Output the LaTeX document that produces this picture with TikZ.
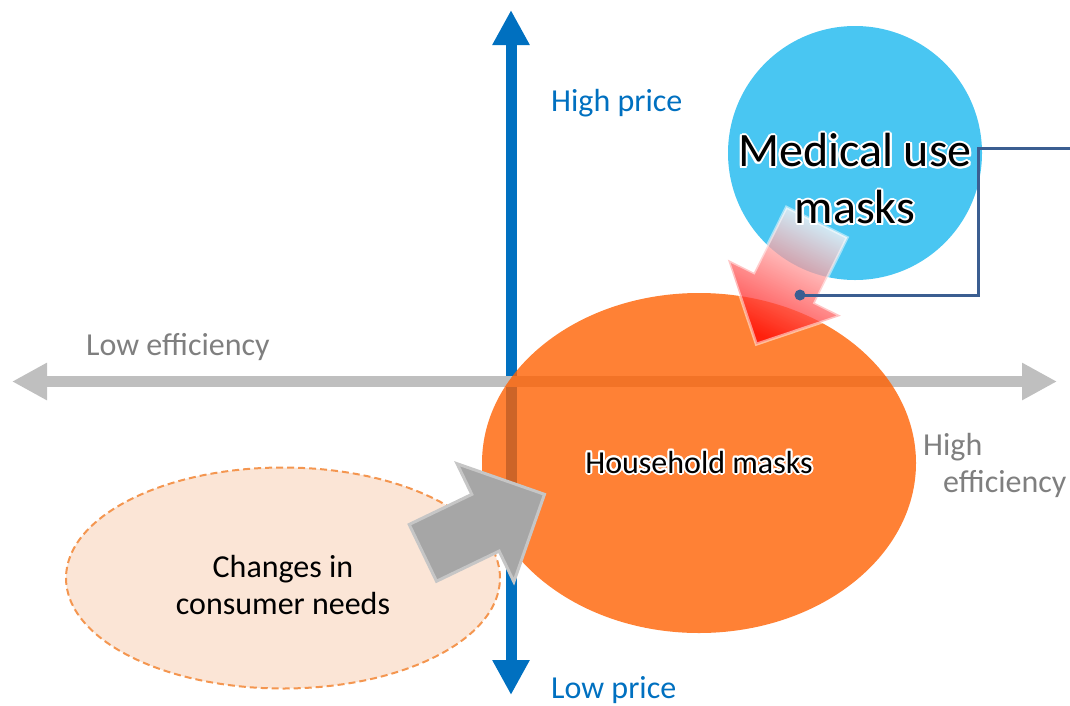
\documentclass[tikz,border=0pt]{standalone}
\usepackage{fontspec}
\setmainfont{Carlito}
\usepackage{contour}
\usetikzlibrary{shapes.geometric, shapes.arrows, arrows.meta, positioning, calc}

\definecolor{priceblue}{RGB}{0,112,192}
\definecolor{effgray}{RGB}{191,191,191}
\definecolor{labelgray}{RGB}{127,127,127}
\definecolor{maskorange}{RGB}{255,97,2}
\definecolor{needsfill}{RGB}{251,229,214}
\definecolor{needsline}{RGB}{244,150,80}
\definecolor{medblue}{RGB}{73,198,242}
\definecolor{shiftgray}{RGB}{166,166,166}
\definecolor{calloutblue}{RGB}{59,94,145}

\contourlength{2pt}

\begin{document}
\begin{tikzpicture}[
    x=1pt, y=-1pt,
    every node/.style={font=\fontsize{32}{37}\selectfont},
    axisline/.style={line width=11pt, {Triangle[width=35pt,length=35pt]}-{Triangle[width=35pt,length=35pt]}},
    pricelabel/.style={text=priceblue, inner sep=0pt},
    efflabel/.style={text=labelgray, inner sep=0pt},
    blob/.style={ellipse, inner sep=0pt},
    blockarrow/.style={single arrow, single arrow head indent=0pt, inner xsep=0pt, line width=3pt, anchor=tail},
    callout/.style={draw=calloutblue, line width=3pt}
]
\useasboundingbox (0,0) rectangle (1070,705);

% Shapes behind the axes
\node[blob, fill=needsfill, draw=needsline, line width=2pt, dash pattern=on 7pt off 4pt,
      minimum width=434pt, minimum height=221pt] (needs) at (283,578) {};
\node[align=center] (needstext) at ($(needs)+(0,7)$) {Changes in\\consumer needs};

% Axes
\coordinate (pricelow) at (511,695);
\coordinate (pricehigh) at (511,10);
\coordinate (efflow) at (12,381.5);
\coordinate (effhigh) at (1057,381.5);
\draw[axisline, priceblue] (pricelow) -- (pricehigh);
\draw[axisline, effgray] (efflow) -- (effhigh);

% Mask types
\node[blob, fill=maskorange, fill opacity=0.8, text opacity=1,
      minimum width=434pt, minimum height=340pt] (household) at (699,463) {\contour{white}{Household masks}};
\node[circle, fill=medblue, minimum size=254pt, inner sep=0pt] (medical) at (855,153) {};

% Shift arrows
\node[blockarrow, fill=shiftgray, draw=gray!45, minimum height=135pt, inner ysep=30pt,
      single arrow head extend=34pt, rotate=25.7] (needshift) at (421.5,553.5) {};
\node[blockarrow, top color=white, bottom color=red, shading angle=-26.4, fill opacity=0.75,
      draw=white, draw opacity=0.5, minimum height=136pt, inner ysep=32.5pt,
      single arrow head extend=29pt, rotate=243.6] (medshift) at (817.5,221) {};

\node[align=center, font=\fontsize{48}{57}\selectfont] (medtext) at ($(medical)+(0,27)$)
    {\contour{white}{Medical use}\\\contour{white}{masks}};

% Callout line
\node[circle, fill=calloutblue, minimum size=11pt, inner sep=0pt] (calldot) at (800,295) {};
\coordinate (callbend) at (978,148);
\coordinate (callend) at (1075,148);
\draw[callout] (calldot.center) -| (callbend) -- (callend);

% Axis labels
\node[pricelabel, anchor=base west] (highprice) at (551,111) {High price};
\node[pricelabel, anchor=base west] (lowprice) at (551,698) {Low price};
\node[efflabel, anchor=base west] (loweff) at (86,355) {Low efficiency};
\node[efflabel, anchor=west, align=left] (higheff) at (923,465.5) {High\\\hspace{20pt}efficiency};

\end{tikzpicture}
\end{document}
